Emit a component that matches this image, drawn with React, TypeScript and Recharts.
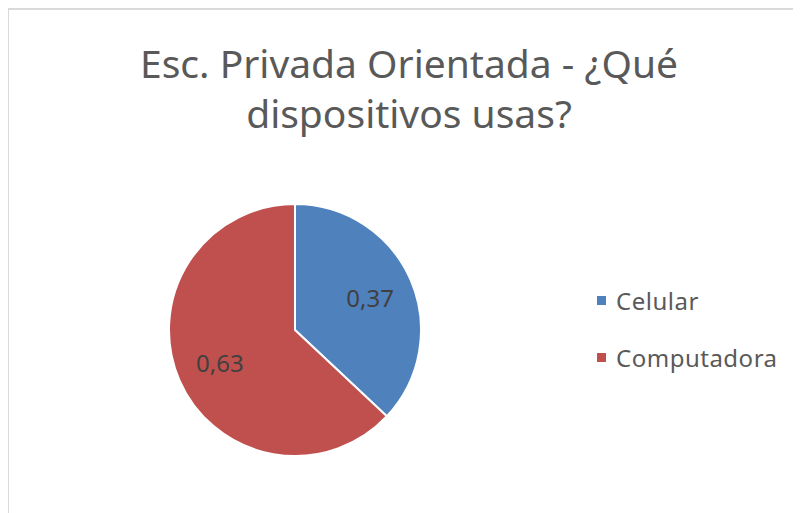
import { PieChart, Pie, Cell, Legend } from 'recharts';

const categories = ['Celular', 'Computadora'];
const values = [0.37, 0.63];
const labels = ['0,37', '0,63'];
const COLORS = ['#4f81bd', '#c0504d'];

const data = categories.map((name, i) => ({ name, value: values[i], label: labels[i] }));

const RADIAN = Math.PI / 180;

const renderLabel = (props: any) => {
  const { cx, cy, midAngle, outerRadius, index } = props;
  const r = outerRadius * 0.65;
  const x = cx + r * Math.cos(-midAngle * RADIAN);
  const y = cy + r * Math.sin(-midAngle * RADIAN);
  return (
    <text
      x={x}
      y={y}
      fill="#404040"
      fontSize={24}
      fontFamily="Noto Sans"
      textAnchor="middle"
      dominantBaseline="central"
    >
      {data[index].label}
    </text>
  );
};

const renderLegend = () => (
  <div style={{ fontFamily: 'Noto Sans', fontSize: 24, color: '#595959', letterSpacing: 0.5 }}>
    {data.map((d, i) => (
      <div key={d.name} style={{ display: 'flex', alignItems: 'center', height: 28, marginBottom: 29 }}>
        <span style={{ width: 9, height: 9, background: COLORS[i], display: 'inline-block', marginRight: 10 }} />
        <span>{d.name}</span>
      </div>
    ))}
  </div>
);

export default function App() {
  return (
    <div
      style={{
        position: 'relative',
        width: 800,
        height: 510,
        marginLeft: -1,
        borderLeft: '2px solid #d9d9d9',
        borderTop: '2px solid #d9d9d9',
        background: '#fff',
      }}
    >
      <div
        style={{
          position: 'absolute',
          left: 0,
          top: 28,
          width: 800,
          textAlign: 'center',
          fontFamily: 'Noto Sans',
          fontSize: 39,
          lineHeight: '50px',
          color: '#595959',
        }}
      >
        Esc. Privada Orientada - ¿Qué
        <br />
        dispositivos usas?
      </div>
      <div style={{ position: 'absolute', left: 0, top: 0 }}>
        <PieChart width={798} height={508}>
          <Pie
            data={data}
            dataKey="value"
            nameKey="name"
            cx={281}
            cy={315}
            outerRadius={126}
            startAngle={90}
            endAngle={-270}
            stroke="#fff"
            strokeWidth={2}
            labelLine={false}
            label={renderLabel}
            isAnimationActive={false}
          >
            {data.map((entry, index) => (
              <Cell key={`cell-${index}`} fill={COLORS[index]} />
            ))}
          </Pie>
          <Legend
            content={renderLegend}
            wrapperStyle={{ left: 588, top: 276, width: 210 }}
          />
        </PieChart>
      </div>
    </div>
  );
}
